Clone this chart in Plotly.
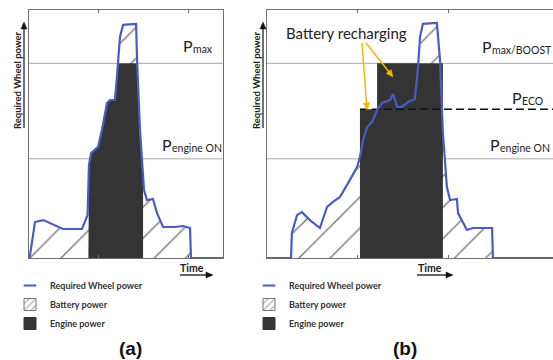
import numpy as np
import plotly.graph_objects as go

W, H = 553, 360

# ---------------- data ----------------
P_MAX = 78.5
P_ECO = 60.0
P_ENGINE_ON = 40.0

# panel (a): required wheel power vs time
t_a = [0, 0.3, 3.1, 7.4, 17.5, 27.3, 30.2, 30.9, 32.0, 35.6, 37.6, 40.2, 41.8, 44.3,
       45.4, 46.9, 48.5, 55.2, 55.7, 57.2, 59.3, 60.8, 63.9, 66.0, 69.1, 75.3, 79.4,
       83.0, 83.5, 100]
p_a = [0, 0, 14.5, 15.3, 11.7, 11.7, 17.3, 37.5, 42.3, 44.8, 51.6, 62.5, 63.7, 63.7,
       73.8, 89.1, 94.0, 94.4, 79.8, 51.6, 27.4, 23.4, 23.8, 18.1, 12.5, 12.5, 12.9,
       12.1, 0, 0]
engine_a = [30.6, 58.8]          # engine on / off times

# panel (b)
t_b = [0, 8.4, 8.7, 10.5, 12.2, 15.0, 18.5, 21.0, 23.1, 25.5, 29.0, 31.5, 32.5, 33.6,
       35.0, 36.7, 38.5, 40.2, 43.0, 44.1, 45.5, 47.2, 49.3, 51.7, 52.8, 53.5, 54.5,
       59.4, 60.5, 61.5, 62.9, 64.0, 66.4, 66.8, 69.9, 72.0, 78.7, 79.0, 100]
p_b = [0, 0, 10.1, 17.3, 18.5, 15.3, 12.1, 20.6, 22.6, 24.6, 31.5, 36.7, 40.7, 47.6,
       52.8, 54.8, 59.7, 62.5, 63.7, 66.1, 60.9, 60.9, 62.9, 64.1, 77.0, 89.1, 94.4,
       94.8, 79.8, 50.4, 28.6, 23.4, 23.8, 18.1, 11.3, 12.1, 12.1, 0, 0]
engine_b = [32.5, 38.5, 61.5]    # engine on, switch ECO->BOOST, engine off
engine_b_levels = [P_ECO, P_MAX]

legend_names = ["Required Wheel power", "Battery power", "Engine power"]

# ---------------- style ----------------
BLUE = "#4a5cc4"
DARK = "#343434"
GREY = "#a8a8a8"
BOX = "#707070"
TXT = "#222222"
FONT = "Lato"

fig = go.Figure()


def px(x):
    return x / W


def py(y):
    return 1 - y / H


def panel(xa, ya, t, p):
    t = np.asarray(t, float)
    p = np.asarray(p, float)
    for lvl in (P_MAX, P_ENGINE_ON):
        fig.add_trace(go.Scatter(x=[0, 100], y=[lvl, lvl], mode="lines",
                                 line=dict(color=GREY, width=1), xaxis=xa, yaxis=ya,
                                 showlegend=False, hoverinfo="skip"))
    fig.add_trace(go.Scatter(x=t, y=p, mode="lines", line=dict(width=0),
                             fill="tozeroy", fillcolor="white",
                             fillpattern=dict(shape="/", fgcolor="#000", bgcolor="white",
                                              size=22, solidity=0.07),
                             xaxis=xa, yaxis=ya, showlegend=False, hoverinfo="skip"))
    return t, p


def finish(xa, ya, t, p):
    fig.add_trace(go.Scatter(x=t, y=p, mode="lines", line=dict(color=BLUE, width=2.2),
                             xaxis=xa, yaxis=ya, showlegend=False, hoverinfo="skip"))


def legend_traces(legend):
    fig.add_trace(go.Scatter(x=[None], y=[None], mode="markers", name=legend_names[0],
                             marker=dict(symbol="line-ew", size=9,
                                         line=dict(color=BLUE, width=2)),
                             legend=legend))
    fig.add_trace(go.Bar(x=[None], y=[None], name=legend_names[1], legend=legend,
                         marker=dict(color="white", line=dict(color="#777", width=1),
                                     pattern=dict(shape="/", fgcolor="#555", bgcolor="white",
                                                  size=6, solidity=0.25))))
    fig.add_trace(go.Bar(x=[None], y=[None], name=legend_names[2], legend=legend,
                         marker=dict(color=DARK, line=dict(color=DARK, width=1))))


# panel (a)
ta, pa = panel("x", "y", t_a, p_a)
tt = np.linspace(engine_a[0], engine_a[1], 600)
ee = np.minimum(np.interp(tt, ta, pa), P_MAX)
fig.add_trace(go.Scatter(x=np.r_[engine_a[0], tt, engine_a[1]], y=np.r_[0, ee, 0],
                         mode="lines", line=dict(width=0), fill="toself", fillcolor=DARK,
                         xaxis="x", yaxis="y", showlegend=False, hoverinfo="skip"))
finish("x", "y", ta, pa)

# panel (b)
tb, pb = panel("x2", "y2", t_b, p_b)
fig.add_trace(go.Scatter(
    x=[engine_b[0], engine_b[0], engine_b[1], engine_b[1], engine_b[2], engine_b[2]],
    y=[0, engine_b_levels[0], engine_b_levels[0], engine_b_levels[1], engine_b_levels[1], 0],
    mode="lines", line=dict(width=0), fill="toself", fillcolor=DARK,
    xaxis="x2", yaxis="y2", showlegend=False, hoverinfo="skip"))
fig.add_trace(go.Scatter(x=[engine_b[0], 100], y=[P_ECO, P_ECO], mode="lines",
                         line=dict(color="#111", width=1.6, dash="8px,4px"),
                         xaxis="x2", yaxis="y2", showlegend=False, hoverinfo="skip"))
finish("x2", "y2", tb, pb)

legend_traces("legend")
legend_traces("legend2")

ydom = [py(258), py(10)]
axis_common = dict(range=[0, 100], showgrid=False, zeroline=False, showline=True,
                   linecolor=BOX, linewidth=1, showticklabels=False)
fig.update_layout(
    xaxis=dict(domain=[px(29), px(223)], ticks="inside", ticklen=3, tickcolor=BOX,
               tickvals=[36, 82], mirror="ticks", anchor="y", **axis_common),
    yaxis=dict(domain=ydom, mirror=True, ticks="", anchor="x", **axis_common),
    xaxis2=dict(domain=[px(267), 1.0], ticks="inside", ticklen=3, tickcolor=BOX,
                tickvals=[31.5, 63.6], mirror="ticks", anchor="y2", **axis_common),
    yaxis2=dict(domain=ydom, mirror=True, ticks="", anchor="x2", **axis_common),
)

legend_style = dict(font=dict(family=FONT, size=9, color="#333", weight="bold"),
                    bgcolor="rgba(0,0,0,0)", borderwidth=0, yanchor="top",
                    xanchor="left", traceorder="normal")
fig.update_layout(
    legend=dict(x=px(10), y=py(271), **legend_style),
    legend2=dict(x=px(249), y=py(271), **legend_style),
)

ann = []
shapes = []


def text(x, y, s, size, xanchor="center", yanchor="middle", **kw):
    font = dict(family=kw.pop("family", FONT), size=size, color=kw.pop("color", TXT))
    if "weight" in kw:
        font["weight"] = kw.pop("weight")
    ann.append(dict(x=px(x), y=py(y), xref="paper", yref="paper", xanchor=xanchor,
                    yanchor=yanchor, showarrow=False, text=s, font=font, **kw))


def plabel(x, baseline, sub):
    # main "P" (16px) and its subscript (10.5px), positioned by baseline
    text(x - 1.5, baseline + 4, "P", 16, xanchor="left", yanchor="bottom", borderpad=0)
    text(x + 9, baseline + 1.5 + 2.6, sub, 10.5, xanchor="left", yanchor="bottom",
         borderpad=0)


def arrow(x0, y0, x1, y1, color, width, hl=7, hw=3.2):
    d = np.array([x1 - x0, y1 - y0], float)
    d /= np.hypot(*d)
    n = np.array([-d[1], d[0]])
    bx, by = x1 - d[0] * hl, y1 - d[1] * hl
    shapes.append(dict(type="line", xref="paper", yref="paper",
                       x0=px(x0), y0=py(y0), x1=px(bx + d[0]), y1=py(by + d[1]),
                       line=dict(color=color, width=width)))
    p1 = (bx + n[0] * hw, by + n[1] * hw)
    p2 = (bx - n[0] * hw, by - n[1] * hw)
    path = (f"M {px(x1):.5f},{py(y1):.5f} L {px(p1[0]):.5f},{py(p1[1]):.5f} "
            f"L {px(p2[0]):.5f},{py(p2[1]):.5f} Z")
    shapes.append(dict(type="path", xref="paper", yref="paper", path=path,
                       fillcolor=color, line=dict(color=color, width=0.5)))


plabel(183, 52, "max")
plabel(162, 151, "engine ON")
plabel(482, 52.5, "max/BOOST")
plabel(512, 104, "ECO")
plabel(490, 151, "engine ON")

# Battery recharging
text(346, 33, "Battery recharging", 15)
ORANGE = "#f2b705"
arrow(362, 43, 367, 110, ORANGE, 1.5)
arrow(366, 43, 393, 77, ORANGE, 1.5)

# Y axis labels with arrows
for xl, xa_ in [(17, 24), (256, 263)]:
    text(xl, 80, "Required Wheel power", 9.5, textangle=-90, weight="bold")
    arrow(xa_, 128, xa_, 22, "#111", 1.2, hl=7, hw=3)

# Time labels with arrows
for xc, x0, x1 in [(192, 180, 213), (430, 417, 453)]:
    text(xc, 268, "Time", 10.5, weight="bold")
    arrow(x0, 275, x1, 275, "#111", 1.3, hl=7, hw=3)

# panel letters
for xc, lab in [(130, "(a)"), (405, "(b)")]:
    text(xc, 348, lab, 19, family="Liberation Sans", color="#111", weight="bold")

fig.update_layout(annotations=ann, shapes=shapes, width=W, height=H,
                  margin=dict(l=0, r=0, t=0, b=0), paper_bgcolor="white",
                  plot_bgcolor="white", barmode="overlay",
                  font=dict(family=FONT, color=TXT))

fig.write_html("out.html", config={"displayModeBar": False},
               post_script="document.body.style.margin='0px';")
